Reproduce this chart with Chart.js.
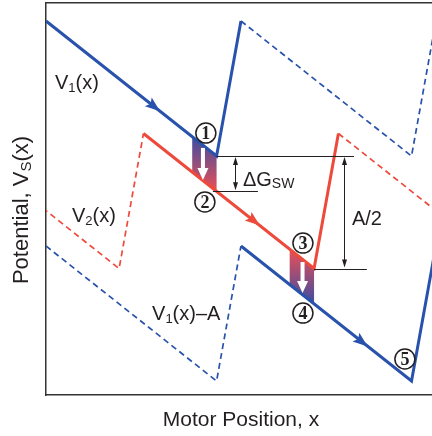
<!DOCTYPE html>
<html lang="en">
<head>
<meta charset="UTF-8">
<title>Sawtooth potentials</title>
<script src="https://cdn.jsdelivr.net/npm/chart.js"></script>
<style>
  html, body { margin: 0; padding: 0; background: #fff; }
  canvas { display: block; }
</style>
</head>
<body>
<canvas id="potChart" width="432" height="436"></canvas>
<script>
// sawtooth pieces, x = motor position, y = potential (arbitrary units)
const v1SolidX = [0, 8.75, 10];
const v1SolidY = [16, 10, 16];
const v1DashX = [10, 18.75, 20];
const v1DashY = [16, 10, 16];
const v2DashLeftX = [-5, 3.75, 5];
const v2DashLeftY = [11, 5, 11];
const v2SolidX = [5, 13.75, 15];
const v2SolidY = [11, 5, 11];
const v2DashRightX = [15, 23.75];
const v2DashRightY = [11, 5];
const v1aDashX = [0, 8.75, 10];
const v1aDashY = [6, 0, 6];
const v1aSolidX = [10, 18.75, 20];
const v1aSolidY = [6, 0, 6];
const fallRun = 8.75;
const fallDrop = 6;

// shaded switching bands
const band1X = [7.5, 8.75];
const band1Top = [10.86, 10];
const band1Bot = [9.29, 8.43];
const band2X = [12.5, 13.75];
const band2Top = [5.86, 5];
const band2Bot = [4.29, 3.43];

// white drop arrows inside the bands
const dropX = [8.05, 13.16];
const dropTop = [10.36, 5.29];
const dropTip = [8.93, 3.91];

// direction arrowheads sitting on the lines
const headX = [5.85, 10.97, 16.5];
const headY = [11.99, 6.91, 1.54];
const headColor = ['blue', 'red', 'blue'];

// numbered steps
const stepNames = ['1', '2', '3', '4', '5'];
const stepX = [8.2, 8.15, 13.18, 13.18, 18.41];
const stepY = [11.02, 7.96, 6.13, 3.02, 0.98];

// dimension lines and arrows
const refY = [10, 8.43, 5];
const refX0 = [8.75, 8.56, 13.75];
const refX1 = [15.8, 10.87, 16.46];
const gapX = [9.7, 15.28];
const gapTop = [10, 10];
const gapBot = [8.43, 5];

// labels: pieces [text, size, drop]
const labelParts = [
  [['V', 20, 0], ['1', 13, 3], ['(x)', 20, 0]],
  [['V', 20, 0], ['2', 13, 3], ['(x)', 20, 0]],
  [['V', 20, 0], ['1', 13, 3], ['(x)\u2013A', 20, 0]],
  [['\u0394G', 20, 0], ['SW', 14, 2]],
  [['A/2', 20, 0]]
];
const labelX = [0.46, 1.33, 5.44, 10.1, 15.69];
const labelY = [13.0, 7.07, 2.71, 8.67, 6.93];

const xTitle = [['Motor Position, x', 21, 0]];
const yTitle = [['Potential, V', 22, 0], ['S', 15, 3], ['(x)', 22, 0]];

const BLUE = '#2852ab';
const RED = '#ee4a3b';
const INK = '#231f20';
const SANS = '"Liberation Sans", Arial, sans-serif';

const xy = (xs, ys) => xs.map((x, i) => ({x: x, y: ys[i]}));

function band(xs, top, bot, c1, c2) {
    return {
        data: xy([xs[0], xs[1], xs[1], xs[0]], [top[0], top[1], bot[1], bot[0]]),
        borderWidth: 0,
        fill: 'shape',
        order: 2,
        backgroundColor: (ctx) => {
            const chart = ctx.chart;
            if (!chart.chartArea) return c1;
            const y = chart.scales.y;
            const g = chart.ctx.createLinearGradient(0, y.getPixelForValue(top[0]), 0, y.getPixelForValue(bot[1]));
            g.addColorStop(0, c1);
            g.addColorStop(1, c2);
            return g;
        }
    };
}

function solid(xs, ys, color) {
    return {data: xy(xs, ys), borderColor: color, borderWidth: 3, borderJoinStyle: 'miter', fill: false, order: 0};
}
function dashed(xs, ys, color) {
    return {data: xy(xs, ys), borderColor: color, borderWidth: 1.7, borderDash: [6, 4], fill: false, order: 1};
}

function richText(c, parts, x, y, center) {
    const widths = parts.map(p => { c.font = p[1] + 'px ' + SANS; return c.measureText(p[0]).width; });
    const total = widths.reduce((a, b) => a + b, 0);
    let cx = center ? x - total / 2 : x;
    parts.forEach((p, i) => {
        c.font = p[1] + 'px ' + SANS;
        c.fillText(p[0], cx, y + p[2]);
        cx += widths[i];
    });
}

function head(c, tx, ty, ang, len, wid, notch, color) {
    c.save();
    c.translate(tx, ty);
    c.rotate(ang);
    c.beginPath();
    c.moveTo(0, 0);
    c.lineTo(-len, wid / 2);
    c.lineTo(-len + notch, 0);
    c.lineTo(-len, -wid / 2);
    c.closePath();
    c.fillStyle = color;
    c.fill();
    c.restore();
}

const extras = {
    id: 'extras',
    afterDatasetsDraw(chart) {
        const c = chart.ctx;
        const xs = chart.scales.x, ys = chart.scales.y;
        const px = v => xs.getPixelForValue(v);
        const py = v => ys.getPixelForValue(v);
        const fallAng = Math.atan2(py(-fallDrop) - py(0), px(fallRun) - px(0));

        // arrowheads on the potential lines
        headX.forEach((hx, i) => {
            head(c, px(hx), py(headY[i]), fallAng, 15, 11, 3, headColor[i] === 'blue' ? BLUE : RED);
        });

        // white drop arrows
        dropX.forEach((dx, i) => {
            const x0 = px(dx), y0 = py(dropTop[i]), y1 = py(dropTip[i]);
            c.fillStyle = '#fff';
            c.fillRect(x0 - 2, y0, 4, (y1 - y0) - 11);
            head(c, x0, y1, Math.PI / 2, 12, 11, 0, '#fff');
        });

        // dimension lines
        c.strokeStyle = INK;
        c.lineWidth = 1;
        refY.forEach((ry, i) => {
            c.beginPath();
            c.moveTo(px(refX0[i]), Math.round(py(ry)) + 0.5);
            c.lineTo(px(refX1[i]), Math.round(py(ry)) + 0.5);
            c.stroke();
        });
        gapX.forEach((gx, i) => {
            const x0 = Math.round(px(gx)) + 0.5, y0 = py(gapTop[i]) + 1, y1 = py(gapBot[i]) - 1;
            c.beginPath();
            c.moveTo(x0, y0 + 6);
            c.lineTo(x0, y1 - 6);
            c.stroke();
            head(c, x0, y0, -Math.PI / 2, 8, 5, 0, INK);
            head(c, x0, y1, Math.PI / 2, 8, 5, 0, INK);
        });

        // numbered circles
        stepNames.forEach((n, i) => {
            const cx = px(stepX[i]), cy = py(stepY[i]);
            c.beginPath();
            c.arc(cx, cy, 10, 0, Math.PI * 2);
            c.fillStyle = '#fff';
            c.fill();
            c.lineWidth = 1.5;
            c.strokeStyle = INK;
            c.stroke();
            c.fillStyle = INK;
            c.font = 'bold 18px "Liberation Serif", serif';
            c.textAlign = 'center';
            c.textBaseline = 'alphabetic';
            c.fillText(n, cx, cy + 6);
        });

        // labels
        c.textAlign = 'left';
        c.fillStyle = INK;
        labelParts.forEach((parts, i) => richText(c, parts, px(labelX[i]), py(labelY[i]), false));

        // axis titles
        const area = chart.chartArea;
        richText(c, xTitle, (area.left + area.right) / 2 + 2, area.bottom + 31, true);
        c.save();
        c.translate(area.left - 18, (area.top + area.bottom) / 2 + 11);
        c.rotate(-Math.PI / 2);
        richText(c, yTitle, 0, 0, true);
        c.restore();
    }
};

const hiddenAxis = (pos, min, max) => ({
    type: 'linear',
    position: pos,
    min: min,
    max: max,
    ticks: {display: false},
    grid: {display: false, drawTicks: false},
    border: {display: true, color: '#333', width: 1.5}
});

new Chart(document.getElementById('potChart'), {
    type: 'line',
    data: {
        datasets: [
            solid(v1SolidX, v1SolidY, BLUE),
            solid(v2SolidX, v2SolidY, RED),
            solid(v1aSolidX, v1aSolidY, BLUE),
            dashed(v1DashX, v1DashY, BLUE),
            dashed(v2DashLeftX, v2DashLeftY, RED),
            dashed(v2DashRightX, v2DashRightY, RED),
            dashed(v1aDashX, v1aDashY, BLUE),
            band(band1X, band1Top, band1Bot, '#3c4da2', '#ec4f55'),
            band(band2X, band2Top, band2Bot, '#ec4f55', '#3c4da2')
        ]
    },
    options: {
        responsive: false,
        animation: false,
        layout: {padding: {left: 46, top: 3, right: 0, bottom: 41}},
        elements: {point: {radius: 0, hoverRadius: 0}, line: {tension: 0}},
        plugins: {legend: {display: false}, tooltip: {enabled: false}},
        scales: {
            x: hiddenAxis('bottom', 0, 19.8),
            x2: Object.assign(hiddenAxis('top', 0, 19.8), {afterFit: s => { s.height = 0; }}),
            y: hiddenAxis('left', -0.62, 16.8)
        }
    },
    plugins: [extras]
});
</script>
</body>
</html>
